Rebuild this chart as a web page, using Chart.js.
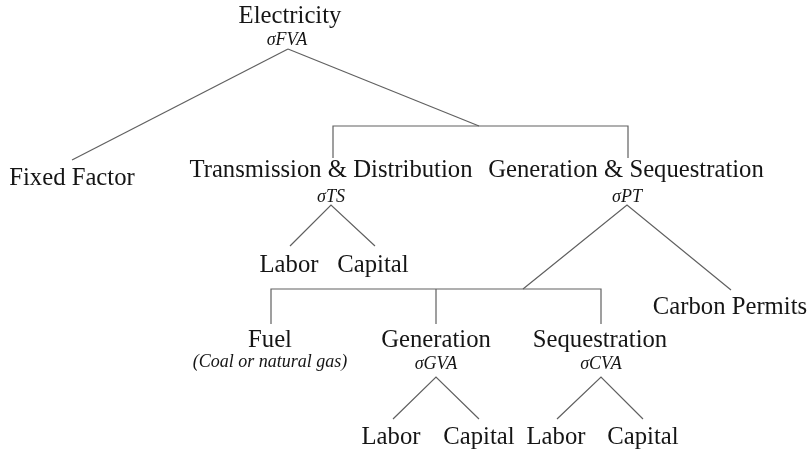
<!DOCTYPE html>
<html>
<head>
<meta charset="utf-8">
<script src="https://cdn.jsdelivr.net/npm/chart.js@4"></script>
<style>
  html, body { margin: 0; padding: 0; background: #ffffff; }
  #wrap { width: 809px; height: 452px; position: relative; }
</style>
</head>
<body>
<div id="wrap"><canvas id="c" width="809" height="452"></canvas></div>
<script>
// ---- Node labels (tree nodes) ----
const nodeLabels = [
  "Electricity", "Fixed Factor", "Transmission & Distribution", "Generation & Sequestration",
  "Labor", "Capital", "Fuel", "Generation", "Sequestration", "Carbon Permits",
  "Labor", "Capital", "Labor", "Capital"
];
// node anchor positions in diagram units (x across, y down)
const nodeX = [290, 72, 331, 626, 289, 373, 270, 436, 600, 730, 391, 479, 556, 643];
const nodeY = [23, 185, 177, 177, 272, 272, 347, 347, 347, 314, 444, 444, 444, 444];

// ---- Elasticity (sigma) labels ----
const sigmaLabels = ["σFVA", "σTS", "σPT", "σGVA", "σCVA", "(Coal or natural gas)"];
const sigmaX = [287, 331, 627, 436, 601, 270];
const sigmaY = [45, 202, 202, 369, 369, 367];

// ---- Tree branches: each is a list of [x, y] points ----
const branches = [
  [[288, 49], [72, 160]],
  [[288, 49], [479, 126]],
  [[333, 158], [333, 126], [628, 126], [628, 158]],
  [[290, 246], [331, 205], [375, 246]],
  [[523, 289], [627, 205], [731, 290]],
  [[271, 324], [271, 289], [601, 289], [601, 324]],
  [[436, 289], [436, 324]],
  [[393, 419], [436, 377], [479, 419]],
  [[557, 419], [601, 377], [643, 419]]
];

const lineColor = "#606060";
const textColor = "#151515";
const serif = "'Liberation Serif', 'Times New Roman', serif";

const datasets = branches.map(pts => ({
  data: pts.map(p => ({ x: p[0], y: p[1] })),
  showLine: true,
  borderColor: lineColor,
  borderWidth: 1.2,
  pointRadius: 0,
  pointHoverRadius: 0,
  fill: false,
  tension: 0
}));

const labelPlugin = {
  id: "treeLabels",
  afterDatasetsDraw(chart) {
    const ctx = chart.ctx;
    const xs = chart.scales.x, ys = chart.scales.y;
    ctx.save();
    ctx.fillStyle = textColor;
    ctx.textAlign = "center";
    ctx.textBaseline = "alphabetic";
    ctx.font = "24.7px " + serif;
    nodeLabels.forEach((t, i) => {
      ctx.fillText(t, xs.getPixelForValue(nodeX[i]), ys.getPixelForValue(nodeY[i]));
    });
    ctx.font = "italic 18px " + serif;
    sigmaLabels.forEach((t, i) => {
      ctx.fillText(t, xs.getPixelForValue(sigmaX[i]), ys.getPixelForValue(sigmaY[i]));
    });
    ctx.restore();
  }
};

new Chart(document.getElementById("c"), {
  type: "scatter",
  data: { datasets },
  options: {
    responsive: false,
    animation: false,
    events: [],
    layout: { padding: 0 },
    plugins: { legend: { display: false }, tooltip: { enabled: false } },
    scales: {
      x: { type: "linear", min: 0, max: 809, display: false },
      y: { type: "linear", min: 0, max: 452, reverse: true, display: false }
    }
  },
  plugins: [labelPlugin]
});
</script>
</body>
</html>
